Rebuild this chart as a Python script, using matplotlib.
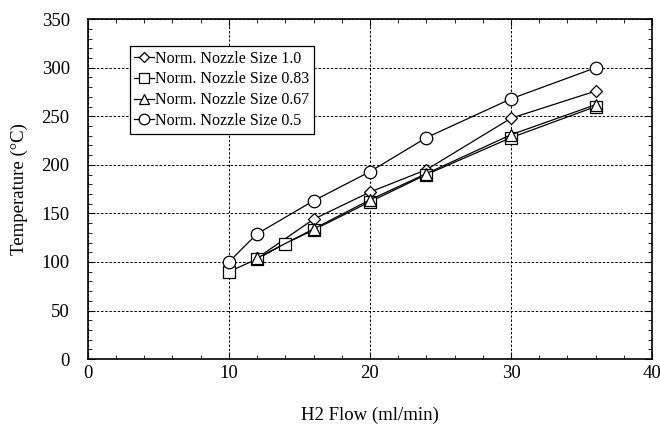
import matplotlib.pyplot as plt
from matplotlib.ticker import MultipleLocator

plt.rcParams['font.family'] = ['Liberation Serif', 'DejaVu Serif']

# data
x_10 = [12, 16, 20, 24, 30, 36]
t_10 = [104, 144, 172, 195, 248, 276]
x_083 = [10, 12, 14, 16, 20, 24, 30, 36]
t_083 = [90, 103, 119, 133, 162, 190, 228, 260]
x_067 = [12, 16, 20, 24, 30, 36]
t_067 = [104, 134, 164, 191, 231, 262]
x_05 = [10, 12, 16, 20, 24, 30, 36]
t_05 = [100, 129, 163, 193, 228, 268, 300]

fig = plt.figure(figsize=(6.6, 4.26), dpi=100)
ax = fig.add_axes([0.133, 0.157, 0.855, 0.798])

style = dict(color='black', lw=0.9, mfc='white', mec='black', mew=0.9)
ax.plot(x_10, t_10, marker='D', ms=6, label='Norm. Nozzle Size 1.0', **style)
ax.plot(x_083, t_083, marker='s', ms=9, label='Norm. Nozzle Size 0.83', **style)
ax.plot(x_067, t_067, marker='^', ms=9, label='Norm. Nozzle Size 0.67', **style)
ax.plot(x_05, t_05, marker='o', ms=9, label='Norm. Nozzle Size 0.5', **style)

ax.set_xlim(0, 40)
ax.set_ylim(0, 350)
ax.xaxis.set_major_locator(MultipleLocator(10))
ax.xaxis.set_minor_locator(MultipleLocator(2))
ax.yaxis.set_major_locator(MultipleLocator(50))
ax.yaxis.set_minor_locator(MultipleLocator(10))
ax.tick_params(which='both', direction='in', top=True, right=True, labelsize=13.5)
ax.tick_params(which='major', length=5)
ax.tick_params(which='minor', length=3)
ax.tick_params(axis='x', pad=4)
ax.tick_params(axis='y', pad=13)
for s in ax.spines.values():
    s.set_linewidth(1.2)

ax.grid(True, which='major', ls=(0, (2.5, 1.8)), color='black', lw=0.7)
ax.set_axisbelow(True)

ax.set_xlabel('H2 Flow (ml/min)', fontsize=13.5, labelpad=18)
ax.set_ylabel('Temperature (°C)', fontsize=13.5, labelpad=10)

leg = ax.legend(loc='upper left', bbox_to_anchor=(0.06, 0.945), fontsize=11.5,
                handlelength=1.2, handletextpad=0.1, borderpad=0.3,
                labelspacing=0.3, fancybox=False, framealpha=1,
                edgecolor='black', markerscale=0.85)
leg.get_frame().set_linewidth(0.9)

fig.savefig('out.png', dpi=100)
